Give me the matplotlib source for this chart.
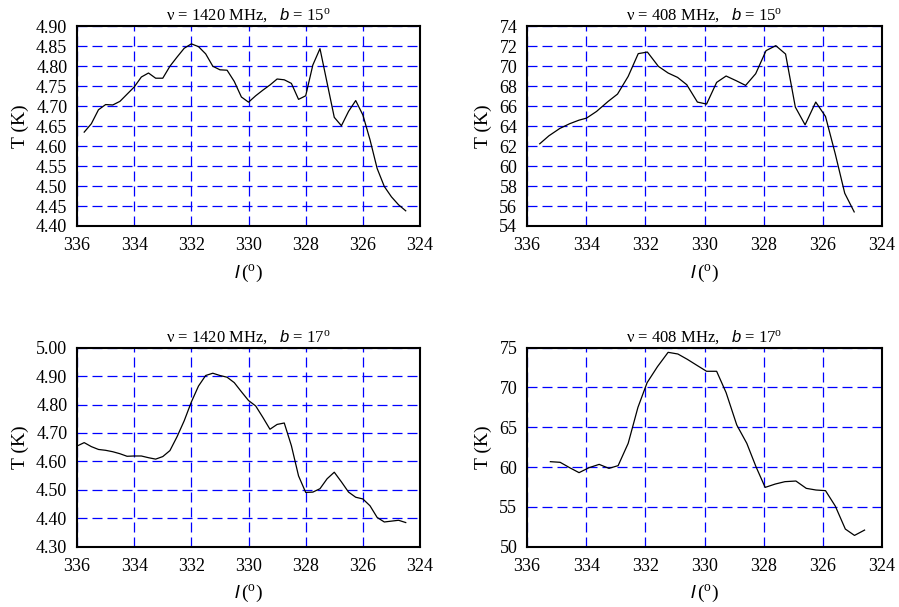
import numpy as np
import matplotlib
matplotlib.use("Agg")
from matplotlib import pyplot as plt

plt.rcParams['font.family'] = ['Liberation Serif', 'DejaVu Serif']
plt.rcParams['mathtext.fontset'] = 'custom'
plt.rcParams['mathtext.it'] = 'Liberation Sans:italic'
plt.rcParams['mathtext.rm'] = 'Liberation Serif'

# 1420 MHz, b = 15
l_1420_15 = [335.75, 335.5, 335.25, 335.0, 334.75, 334.5, 334.25, 334.0, 333.75, 333.5,
             333.25, 333.0, 332.75, 332.5, 332.25, 332.0, 331.75, 331.5, 331.25, 331.0,
             330.75, 330.5, 330.25, 330.0, 329.75, 329.5, 329.25, 329.0, 328.75, 328.5,
             328.25, 328.0, 327.75, 327.5, 327.25, 327.0, 326.75, 326.5, 326.25, 326.0,
             325.75, 325.5, 325.25, 325.0, 324.75, 324.5]
t_1420_15 = [4.635, 4.656, 4.691, 4.704, 4.703, 4.712, 4.730, 4.748, 4.773, 4.783,
             4.770, 4.770, 4.800, 4.823, 4.845, 4.856, 4.849, 4.831, 4.800, 4.791,
             4.790, 4.762, 4.723, 4.710, 4.726, 4.740, 4.753, 4.768, 4.766, 4.757,
             4.717, 4.726, 4.803, 4.844, 4.758, 4.672, 4.651, 4.687, 4.714, 4.678,
             4.616, 4.544, 4.499, 4.473, 4.453, 4.438]

# 408 MHz, b = 15
l_408_15 = [335.57, 335.26, 334.89, 334.56, 334.24, 333.99, 333.65, 333.26, 332.94, 332.58,
            332.24, 331.93, 331.56, 331.23, 330.91, 330.60, 330.24, 329.93, 329.59, 329.27,
            328.93, 328.61, 328.27, 327.92, 327.59, 327.26, 326.93, 326.60, 326.24, 325.91,
            325.58, 325.26, 324.94]
t_408_15 = [62.23, 63.03, 63.77, 64.24, 64.60, 64.80, 65.47, 66.47, 67.21, 68.98,
            71.26, 71.42, 69.99, 69.32, 68.88, 68.15, 66.41, 66.21, 68.38, 69.02,
            68.55, 68.08, 69.25, 71.56, 72.06, 71.22, 65.91, 64.13, 66.41, 64.97,
            61.22, 57.28, 55.41]

# 1420 MHz, b = 17
l_1420_17 = [336.0, 335.75, 335.5, 335.25, 335.0, 334.75, 334.5, 334.25, 334.0, 333.75,
             333.5, 333.25, 333.0, 332.75, 332.5, 332.25, 332.0, 331.75, 331.5, 331.25,
             331.0, 330.75, 330.5, 330.25, 330.0, 329.75, 329.5, 329.25, 329.0, 328.75,
             328.5, 328.25, 328.0, 327.75, 327.5, 327.25, 327.0, 326.75, 326.5, 326.25,
             326.0, 325.75, 325.5, 325.25, 325.0, 324.75, 324.5]
t_1420_17 = [4.654, 4.666, 4.652, 4.642, 4.639, 4.634, 4.627, 4.618, 4.619, 4.619,
             4.613, 4.608, 4.617, 4.638, 4.687, 4.743, 4.809, 4.865, 4.902, 4.910,
             4.902, 4.896, 4.877, 4.845, 4.814, 4.795, 4.755, 4.713, 4.730, 4.735,
             4.655, 4.549, 4.491, 4.492, 4.504, 4.539, 4.562, 4.528, 4.492, 4.474,
             4.468, 4.444, 4.403, 4.387, 4.390, 4.393, 4.385]

# 408 MHz, b = 17
l_408_17 = [335.21, 334.88, 334.56, 334.24, 333.90, 333.56, 333.23, 332.92, 332.58, 332.25,
            331.94, 331.59, 331.23, 330.90, 330.58, 330.24, 329.93, 329.59, 329.27, 328.91,
            328.57, 328.26, 327.95, 327.61, 327.28, 326.91, 326.56, 326.23, 325.91, 325.58,
            325.24, 324.93, 324.59]
t_408_17 = [60.68, 60.60, 59.93, 59.30, 59.93, 60.34, 59.84, 60.18, 62.98, 67.50,
            70.60, 72.61, 74.41, 74.20, 73.53, 72.74, 72.03, 72.03, 69.35, 65.29,
            62.98, 60.05, 57.45, 57.87, 58.17, 58.25, 57.33, 57.12, 57.04, 55.11,
            52.22, 51.42, 52.09]

x_ticks = [336, 334, 332, 330, 328, 326, 324]

panels = [
    # (rect, l, T, title, yticks, yfmt)
    ([0.0857, 0.6277, 0.3815, 0.3290], l_1420_15, t_1420_15,
     'ν = 1420 MHz,   $b$ = 15$^{\\mathrm{o}}$', np.arange(4.40, 4.901, 0.05), '%.2f'),
    ([0.5862, 0.6277, 0.3949, 0.3290], l_408_15, t_408_15,
     'ν = 408 MHz,   $b$ = 15$^{\\mathrm{o}}$', np.arange(54, 74.1, 2), '%d'),
    ([0.0857, 0.0993, 0.3815, 0.3280], l_1420_17, t_1420_17,
     'ν = 1420 MHz,   $b$ = 17$^{\\mathrm{o}}$', np.arange(4.30, 5.001, 0.10), '%.2f'),
    ([0.5862, 0.0993, 0.3949, 0.3280], l_408_17, t_408_17,
     'ν = 408 MHz,   $b$ = 17$^{\\mathrm{o}}$', np.arange(50, 75.1, 5), '%d'),
]

fig = plt.figure(figsize=(8.99, 6.07), dpi=100)

for rect, l, t, title, yticks, yfmt in panels:
    ax = fig.add_axes(rect)
    ax.plot(l, t, color='black', linewidth=0.9)
    ax.set_xlim(336, 324)
    ax.set_ylim(yticks[0], yticks[-1])
    ax.set_xticks(x_ticks)
    ax.set_yticks(yticks)
    ax.set_yticklabels([yfmt % v for v in yticks])
    ax.grid(True, color='blue', linestyle=(0, (8, 4)), linewidth=0.9)
    ax.tick_params(length=0, labelsize=13)
    ax.tick_params(axis='y', pad=7)
    ax.tick_params(axis='x', pad=8)
    for sp in ax.spines.values():
        sp.set_linewidth(1.5)
    ax.set_title(title, fontsize=12, pad=4)
    ax.set_ylabel('T (K)', fontsize=14, labelpad=5)
    ax.set_xlabel('$\\mathit{l}\\,(^{\\mathrm{o}})$', fontsize=14, labelpad=6)

plt.savefig('out.png', dpi=100)
